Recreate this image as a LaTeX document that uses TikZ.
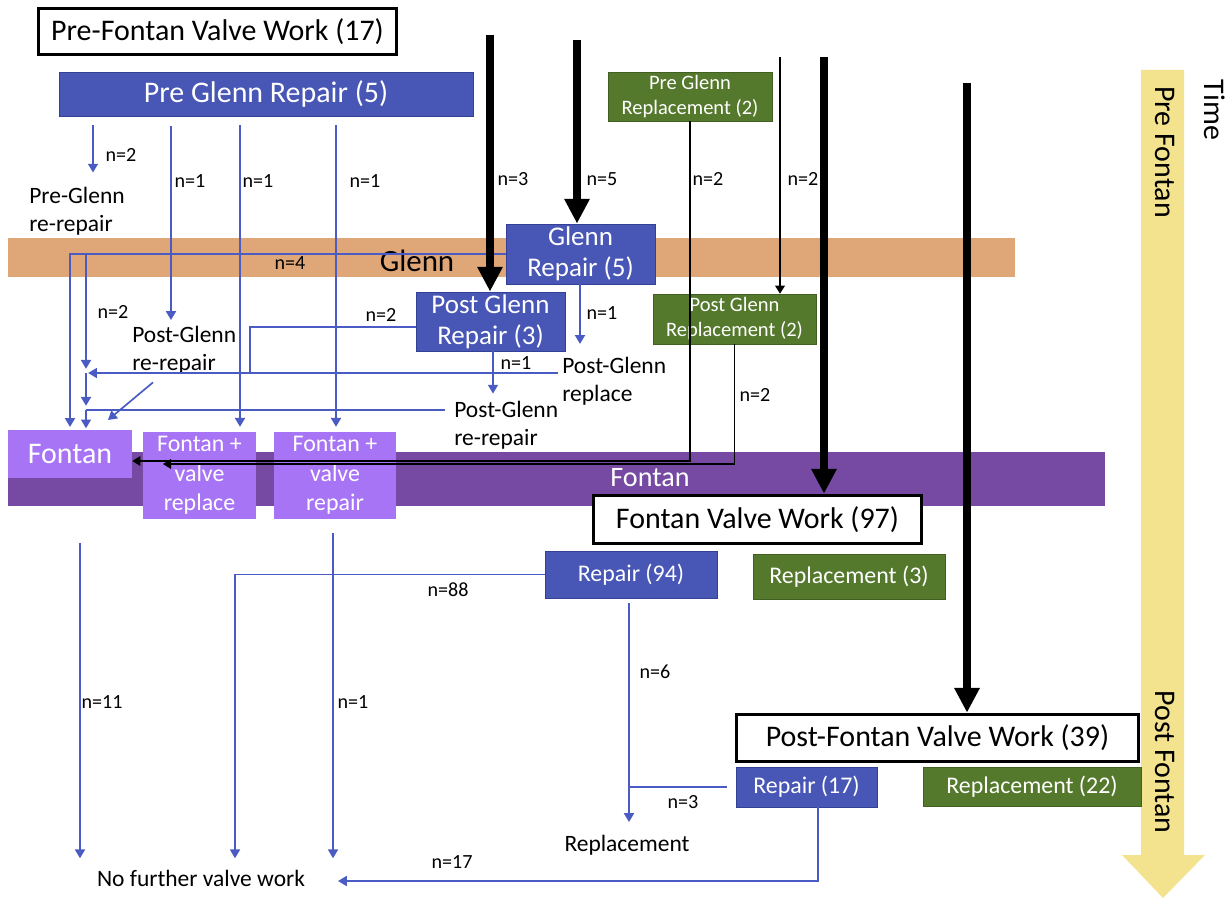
\documentclass[tikz,border=0pt]{standalone}
\usepackage{fontspec}
\setmainfont{Carlito}
\usetikzlibrary{arrows.meta}
\definecolor{repblue}{RGB}{72,86,181}
\definecolor{repedge}{RGB}{52,64,150}
\definecolor{flowblue}{RGB}{74,92,196}
\definecolor{replgreen}{RGB}{84,120,44}
\definecolor{glennband}{RGB}{223,167,120}
\definecolor{fontanband}{RGB}{118,73,162}
\definecolor{fontanlilac}{RGB}{167,116,245}
\definecolor{timeyellow}{RGB}{243,227,142}
\begin{document}
\begin{tikzpicture}[x=0.25mm,y=-0.25mm,
  workbox/.style={draw=black, line width=2.6pt, fill=white, inner sep=0pt, font=\fontsize{21.3}{25}\selectfont},
  repairbox/.style={draw=repedge, line width=0.6pt, fill=repblue, text=white, inner sep=0pt, align=center},
  replbox/.style={draw=replgreen!80!black, line width=0.4pt, fill=replgreen, text=white, inner sep=0pt, align=center},
  fontanbox/.style={fill=fontanlilac, text=white, inner sep=0pt, align=center},
  plainlabel/.style={inner sep=0pt, align=left, font=\fontsize{16.7}{20}\selectfont},
  nlabel/.style={inner sep=0pt, font=\fontsize{14.3}{16}\selectfont},
  sidelabel/.style={inner sep=0pt, rotate=-90, font=\fontsize{21.3}{25}\selectfont},
  blueline/.style={draw=flowblue, line width=1.2pt},
  blueflow/.style={blueline, -{Triangle[length=2.2mm,width=2.5mm]}},
  thinflow/.style={line width=1pt, -{Triangle[length=2mm,width=2.4mm]}},
  thickflow/.style={line width=5.5pt, -{Triangle[length=6.2mm,width=6mm]}}]
\useasboundingbox (0,0) rectangle (1230,898);

% bands and time axis
\fill[glennband] (8,238) rectangle (1015,277);
\fill[fontanband] (8,452) rectangle (1105,506);
\fill[timeyellow] (1141,70) -- (1184,70) -- (1184,855) -- (1205,855) -- (1163,898) -- (1122,855) -- (1141,855) -- cycle;
\node[sidelabel] (timelbl) at (1215,110) {Time};
\node[sidelabel] (prefontan) at (1165,152) {Pre Fontan};
\node[sidelabel] (postfontan) at (1165,762) {Post Fontan};
\node[inner sep=0pt, font=\fontsize{22}{26}\selectfont] (glennlbl) at (417,261) {Glenn};
\node[inner sep=0pt, text=white, font=\fontsize{20}{24}\selectfont] (fontanlbl) at (650,478) {Fontan};

% boxes
\node[workbox, minimum width=89.5mm, minimum height=11.5mm] (prefvw) at (217.5,31.5) {Pre-Fontan Valve Work (17)};
\node[repairbox, font=\fontsize{21.3}{25}\selectfont, minimum width=103.5mm, minimum height=11mm] (pgr) at (266,94) {Pre Glenn Repair (5)};
\node[replbox, font=\fontsize{14.6}{17.8}\selectfont, minimum width=41mm, minimum height=12.25mm] (pgrep) at (690,96.5) {Pre Glenn\\Replacement (2)};
\node[repairbox, font=\fontsize{19.2}{22}\selectfont, minimum width=37.25mm, minimum height=15mm] (gr) at (580.5,254) {Glenn\\Repair (5)};
\node[repairbox, font=\fontsize{19.2}{22}\selectfont, minimum width=37.25mm, minimum height=14.75mm] (postgr) at (490.5,321.5) {Post Glenn\\Repair (3)};
\node[replbox, font=\fontsize{14.6}{17.8}\selectfont, minimum width=40.75mm, minimum height=12.5mm] (postgrep) at (734.5,319) {Post Glenn\\Replacement (2)};
\node[fontanbox, font=\fontsize{21.3}{25}\selectfont, minimum width=31mm, minimum height=12mm] (fontan) at (70,454) {Fontan};
\node[fontanbox, font=\fontsize{17}{21}\selectfont, minimum width=28.25mm, minimum height=21.75mm] (fvreplace) at (199.5,475.5) {Fontan +\\valve\\replace};
\node[fontanbox, font=\fontsize{17}{21}\selectfont, minimum width=30.5mm, minimum height=21.75mm] (fvrepair) at (335,475.5) {Fontan +\\valve\\repair};
\node[workbox, minimum width=82mm, minimum height=12mm] (fvw) at (757.5,519.5) {Fontan Valve Work (97)};
\node[repairbox, font=\fontsize{17}{21}\selectfont, minimum width=43mm, minimum height=11.75mm] (rep94) at (631,574.5) {Repair (94)};
\node[replbox, font=\fontsize{17}{21}\selectfont, minimum width=48mm, minimum height=11.25mm] (repl3) at (849,576.5) {Replacement (3)};
\node[workbox, minimum width=100.5mm, minimum height=11.75mm] (pfvw) at (937.5,738) {Post-Fontan Valve Work (39)};
\node[repairbox, font=\fontsize{17}{21}\selectfont, minimum width=35.25mm, minimum height=10mm] (rep17) at (806.5,787) {Repair (17)};
\node[replbox, font=\fontsize{17}{21}\selectfont, minimum width=54.5mm, minimum height=9.75mm] (repl22) at (1032,786.5) {Replacement (22)};

% outcome texts
\node[plainlabel, anchor=west] (pgrere) at (29,211) {Pre-Glenn\\re-repair};
\node[plainlabel, anchor=west] (postgrere) at (132,350) {Post-Glenn\\re-repair};
\node[plainlabel, anchor=west] (postgrrepl) at (562,381) {Post-Glenn\\replace};
\node[plainlabel, anchor=west] (postgrrere) at (454,425) {Post-Glenn\\re-repair};
\node[plainlabel] (nofurther) at (201,878) {No further valve work};
\node[plainlabel] (replout) at (627,845) {Replacement};

% columns and corners
\coordinate (ca) at (93,0);
\coordinate (cb) at (171,0);
\coordinate (cc) at (240,0);
\coordinate (cd) at (336,0);
\coordinate (ce) at (70,0);
\coordinate (cf) at (86,0);
\coordinate (cg) at (580,0);
\coordinate (ch) at (493,0);
\coordinate (ci) at (80,0);
\coordinate (cj) at (333,0);
\coordinate (ck) at (235,0);
\coordinate (cl) at (629,0);
\coordinate (cm) at (818,0);
\coordinate (hr) at (558,373);
\coordinate (hk) at (445,410);
\coordinate (pj) at (250,327);
\coordinate (dg) at (108,420);
\coordinate (kc) at (163,464);
\coordinate (kr) at (0,461);
\coordinate (tj) at (338,881);
\coordinate (ks) at (780,57);
\coordinate (ta) at (490,35);
\coordinate (tb) at (577,40);
\coordinate (tc) at (824,57);
\coordinate (td) at (967,83);

% pre glenn repair
\draw[blueflow, shorten <=6.4pt, shorten >=10pt] (pgr.south -| ca) -- (pgrere.north -| ca);
\draw[blueflow, shorten <=7pt, shorten >=4pt] (pgr.south -| cb) -- (postgrere.north -| cb);
\draw[blueflow, shorten <=6.4pt, shorten >=3.5pt] (pgr.south -| cc) -- (fvreplace.north -| cc);
\draw[blueflow, shorten <=6.4pt, shorten >=3.5pt] (pgr.south -| cd) -- (fvrepair.north -| cd);

% glenn repair
\draw[blueflow, shorten >=2pt] (gr.west) -| (fontan.north -| ce);
\draw[blueflow, shorten >=3pt] (gr.west -| cf) -- (hr -| cf);
\draw[blueflow, shorten >=1.5pt] (hr) -- (hr -| cf);
\draw[blueflow, shorten >=3pt] (hr -| cf) -- (hk -| cf);
\draw[blueline] (hk) -- (hk -| cf);
\draw[blueflow, shorten >=1pt] (hk -| cf) -- (fontan.north -| cf);
\draw[blueline] (postgr.west |- pj) -- (pj) -- (pj |- hr);
\draw[blueflow] (postgrere.south west) ++(21,8) -- (dg);
\draw[blueflow, shorten >=9pt] (gr.south -| cg) -- (postgrrepl.north -| cg);
\draw[blueflow, shorten >=5pt] (postgr.south -| ch) -- (postgrrere.north -| ch);

% replacements before fontan
\draw[thinflow] (pgrep.south) |- (fontan.east |- kr);
\draw[thinflow] (postgrep.south) |- (kc);
\draw[thinflow] (ks) -- (postgrep.north -| ks);

% main timeline
\draw[thickflow] (ta) -- (postgr.north -| ta);
\draw[thickflow] (tb) -- (gr.north -| tb);
\draw[thickflow] (tc) -- (fvw.north -| tc);
\draw[thickflow] (td) -- (pfvw.north -| td);

% after fontan
\draw[blueflow, shorten <=46pt, shorten >=8pt] (fontan.south -| ci) -- (nofurther.north -| ci);
\draw[blueflow, shorten <=10pt, shorten >=8pt] (fvrepair.south -| cj) -- (nofurther.north -| cj);
\draw[blueflow, shorten >=8pt] (rep94.west) -| (nofurther.north -| ck);
\draw[blueflow, shorten <=3.5pt, shorten >=9pt] (rep94.south -| cl) -- (replout.north -| cl);
\draw[blueline, shorten <=6pt] (rep17.west) -- (rep17.west -| cl);
\draw[blueflow] (rep17.south -| cm) |- (tj);

% counts
\node[nlabel] (n1) at (121,155) {n=2};
\node[nlabel] (n2) at (190,181) {n=1};
\node[nlabel] (n3) at (258,181) {n=1};
\node[nlabel] (n4) at (365,181) {n=1};
\node[nlabel] (n5) at (513,179) {n=3};
\node[nlabel] (n6) at (602,179) {n=5};
\node[nlabel] (n7) at (708,179) {n=2};
\node[nlabel] (n8) at (803,179) {n=2};
\node[nlabel] (n9) at (290,263) {n=4};
\node[nlabel] (n10) at (113,312) {n=2};
\node[nlabel] (n11) at (381,315) {n=2};
\node[nlabel] (n12) at (602,313) {n=1};
\node[nlabel] (n13) at (516,363) {n=1};
\node[nlabel] (n14) at (755,395) {n=2};
\node[nlabel] (n15) at (448,590) {n=88};
\node[nlabel] (n16) at (655,672) {n=6};
\node[nlabel] (n17) at (102,702) {n=11};
\node[nlabel] (n18) at (353,702) {n=1};
\node[nlabel] (n19) at (683,802) {n=3};
\node[nlabel] (n20) at (452,862) {n=17};
\end{tikzpicture}
\end{document}
